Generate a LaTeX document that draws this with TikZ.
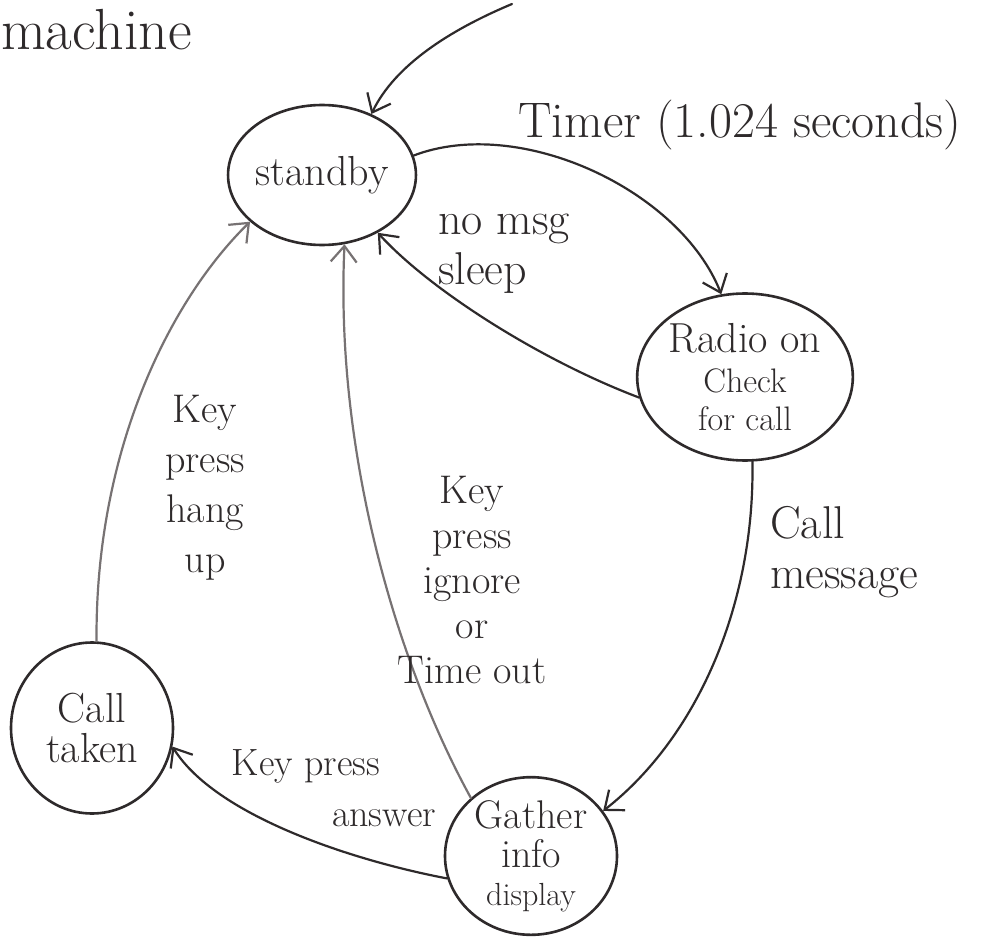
\documentclass[tikz,border=0pt]{standalone}
\usepackage{fontspec}
\usetikzlibrary{shapes.geometric,arrows.meta}
\definecolor{ink}{HTML}{2E2A2B}
\definecolor{pen}{HTML}{777273}
\begin{document}
\begin{tikzpicture}[x=1pt,y=-1pt,
  state/.style={draw=ink, line width=2.6pt, ellipse, inner sep=0pt, text=ink, align=center,
    font=\fontsize{42}{44}\selectfont},
  edge/.style={draw=ink, line width=2.2pt, line cap=round,
    -{Straight Barb[length=16pt,width=26pt,line width=2.2pt]}},
  pencil/.style={edge, draw=pen},
  lab/.style={text=ink, inner sep=0pt, font=\fontsize{46}{50}\selectfont},
  smalllab/.style={text=ink, inner sep=0pt, font=\fontsize{40}{50}\selectfont}]
\useasboundingbox (0,0) rectangle (994,939);
\fill[white] (0,0) rectangle (994,939);

% states
\node[state, minimum width=165pt, minimum height=140pt] (standby) at (322,175) {standby};
\node[state, minimum width=200pt, minimum height=167pt] (radio) at (745,377)
  {Radio on\\[-4pt]{\fontsize{34}{36}\selectfont Check}\\[-6pt]{\fontsize{34}{36}\selectfont for call}};
\node[state, minimum width=172pt, minimum height=155pt, font=\fontsize{40}{42}\selectfont] (gather) at (531,856)
  {Gather\\[-3pt]info\\[-4pt]{\fontsize{32}{34}\selectfont display}};
\node[state, minimum width=162pt, minimum height=171pt] (taken) at (92,728)
  {Call\\[-4pt]taken};

% initial arrow
\coordinate (init) at (512,4);
\draw[edge] (init) .. controls (450,30) and (395,65) .. (standby.51);

% transitions
\draw[edge] (standby.12) .. controls (520,115) and (680,190) .. (radio.106);
\draw[edge] (radio.-169) .. controls (540,360) and (430,290) .. (standby.-46);
\draw[edge] (radio.-85) .. controls (755,600) and (700,735) .. (gather.32);
\draw[edge] (gather.-165) .. controls (350,860) and (215,815) .. (taken.-13);
\draw[pencil] (gather.136) .. controls (395,660) and (335,450) .. (standby.-72);
\draw[pencil] (taken.87) .. controls (95,450) and (170,300) .. (standby.-147);

% labels
\node[lab, anchor=west, font=\fontsize{58}{60}\selectfont] (title) at (1,30) {machine};
\node[lab, font=\fontsize{50}{54}\selectfont] (ltimer) at (740,125) {Timer (1.024 seconds)};
\node[lab, anchor=west, align=left] (lsleep) at (438,254) {no msg\\sleep};
\node[lab, anchor=west, align=left] (lcall) at (770,552) {Call\\message};
\node[smalllab, align=center] (lhang) at (205,488) {Key\\press\\hang\\up};
\node[smalllab, align=center, font=\fontsize{40}{45}\selectfont] (lignore) at (472,580) {Key\\press\\ignore\\or\\Time out};
\node[smalllab, font=\fontsize{38}{40}\selectfont] (lanswer) at (306,766) {Key press};
\node[smalllab, font=\fontsize{38}{40}\selectfont] (lanswer2) at (384,818) {answer};
\end{tikzpicture}
\end{document}
